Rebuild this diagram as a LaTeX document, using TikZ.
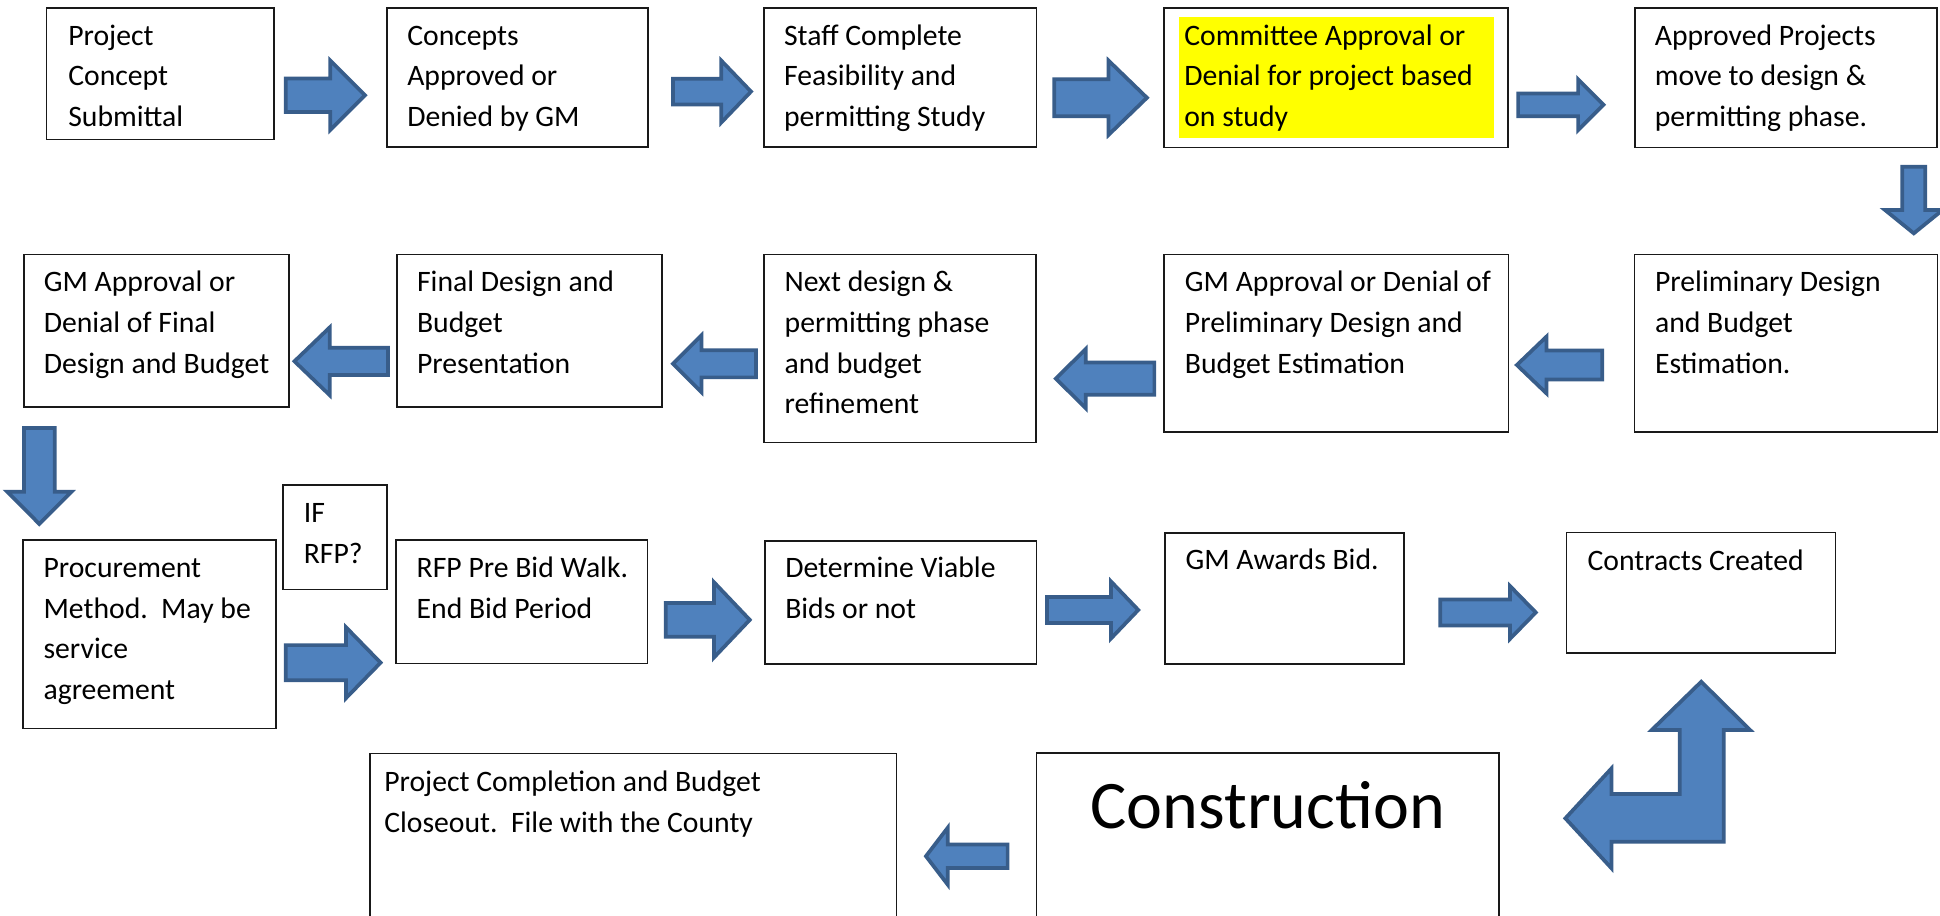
\documentclass[tikz,border=0pt]{standalone}
\usepackage{fontspec}
\setmainfont{Carlito}

\definecolor{arrowfill}{HTML}{4F81BD}
\definecolor{arrowline}{HTML}{385D8A}
\definecolor{hilite}{HTML}{FFFF00}

\tikzset{
  box/.style={draw=black!90, line width=1.3pt, inner sep=0pt, anchor=north west},
  lbl/.style={anchor=base west, inner sep=0pt, font=\fontsize{24}{33}\selectfont},
  barrow/.style={fill=arrowfill, draw=arrowline, line width=3pt, line join=miter},
}

% box: name, left, top, width, height
\newcommand{\flowbox}[5]{\node[box, minimum width=#4pt, minimum height=#5pt] (#1) at (#2,#3) {};}
% box text: name, box, inset x, first baseline below top, lines
\newcommand{\boxtext}[5]{\node[lbl] (#1) at ([shift={(#3,#4)}]#2.north west) {\parbox[t]{500pt}{\raggedright #5}};}
% horizontal block arrow: tail x, head base x, tip x, centre y, head half height, shaft half height
\newcommand{\harrow}[6]{\draw[barrow] (#1,{#4-#6}) -- (#2,{#4-#6}) -- (#2,{#4-#5}) -- (#3,#4) -- (#2,{#4+#5}) -- (#2,{#4+#6}) -- (#1,{#4+#6}) -- cycle;}
% downward block arrow: centre x, top y, head base y, tip y, head half width, shaft half width
\newcommand{\varrow}[6]{\draw[barrow] ({#1-#6},#2) -- ({#1+#6},#2) -- ({#1+#6},#3) -- ({#1+#5},#3) -- (#1,#4) -- ({#1-#5},#3) -- ({#1-#6},#3) -- cycle;}

\begin{document}
\begin{tikzpicture}[x=1pt, y=-1pt]
\useasboundingbox (0,0) rectangle (1568,740);
\clip (0,0) rectangle (1568,740);
\fill[white] (0,0) rectangle (1568,740);

% ---- first row ----
\flowbox{b1}{37}{6}{184}{106}
\flowbox{b2}{312}{6}{211}{112}
\flowbox{b3}{617}{6}{220}{112}
\flowbox{b4}{940}{6}{278}{112.6}
\flowbox{b5}{1320.7}{6}{244}{112.6}
\fill[hilite] ([shift={(13,7.5)}]b4.north west) rectangle ([shift={(-12,-8)}]b4.south east);

\boxtext{t1}{b1}{18}{30.5}{Project\\Concept\\Submittal}
\boxtext{t2}{b2}{17}{30.5}{Concepts\\Approved or\\Denied by GM}
\boxtext{t3}{b3}{16.5}{30.5}{Staff Complete\\Feasibility and\\permitting Study}
\boxtext{t4}{b4}{17}{30.5}{Committee Approval or\\Denial for project based\\on study}
\boxtext{t5}{b5}{16.6}{30.5}{Approved Projects\\move to design \&\\permitting phase.}

\harrow{231}{267}{295}{77}{28}{13.5}
\harrow{544}{583}{607}{74}{25}{10.4}
\harrow{852}{896}{927}{79}{30}{15}
\harrow{1227}{1275.5}{1296}{84.7}{20.5}{9.2}
\varrow{1546.8}{134.7}{169.7}{188.6}{23.3}{9.3}

% ---- second row ----
\flowbox{b6}{18.7}{205}{214}{123.4}
\flowbox{b7}{320.4}{205}{214}{123.4}
\flowbox{b8}{617}{205}{219.5}{152}
\flowbox{b9}{940}{205}{278.7}{143.4}
\flowbox{b10}{1320.5}{205}{244.7}{143.4}

\boxtext{t6}{b6}{16.5}{30.5}{GM Approval or\\Denial of Final\\Design and Budget}
\boxtext{t7}{b7}{16.5}{30.5}{Final Design and\\Budget\\Presentation}
\boxtext{t8}{b8}{17}{30.5}{Next design \&\\permitting phase\\and budget\\refinement}
\boxtext{t9}{b9}{17.5}{30.5}{GM Approval or Denial of\\Preliminary Design and\\Budget Estimation}
\boxtext{t10}{b10}{17}{30.5}{Preliminary Design\\and Budget\\Estimation.}

\harrow{313.6}{266.5}{238}{292}{27.4}{11}
\harrow{611}{567}{544}{294}{23}{11}
\harrow{933}{877.6}{853.4}{306}{24}{13}
\harrow{1295}{1250}{1226}{295}{23}{11.7}
\varrow{31.8}{346}{397.4}{423.5}{26}{12.4}

% ---- third row ----
\flowbox{b11}{18}{436}{204.5}{152}
\flowbox{b12}{228}{391.5}{84}{84.3}
\flowbox{b13}{319.6}{436}{203}{99.6}
\flowbox{b14}{617.5}{436.5}{219.5}{99.5}
\flowbox{b15}{941}{430}{193.3}{106}
\flowbox{b16}{1265.5}{429.7}{217.5}{97.6}

\boxtext{t11}{b11}{17}{30.5}{Procurement\\Method.\ \ May be\\service\\agreement}
\boxtext{t12}{b12}{17.4}{31}{IF\\RFP?}
\boxtext{t13}{b13}{17}{30.5}{RFP Pre Bid Walk.\\End Bid Period}
\boxtext{t14}{b14}{17}{30.5}{Determine Viable\\Bids or not}
\boxtext{t15}{b15}{17}{30.5}{GM Awards Bid.}
\boxtext{t16}{b16}{17.5}{31}{Contracts Created}

\harrow{231}{279.6}{307.6}{535.6}{28.7}{14.2}
\harrow{538}{577}{606}{501}{30.5}{13.7}
\harrow{846.3}{898}{920}{493}{23}{10.5}
\harrow{1164}{1220.5}{1241.3}{495}{21.3}{10.5}

% ---- last row ----
\flowbox{b17}{298.4}{608.4}{425.4}{200}
\flowbox{b18}{837}{608}{374}{200}
\boxtext{t17}{b17}{12}{31.6}{Project Completion and Budget\\Closeout.\ \ File with the County}
\node[anchor=base, inner sep=0pt, font=\fontsize{55}{60}\selectfont] (t18) at ([shift={(0,62)}]b18.north) {Construction};

\harrow{814.4}{766}{748.4}{692}{23}{9.5}

% bent arrow from Construction up to Contracts Created
\draw[barrow] (1375,551) -- (1414.5,590) -- (1393.2,590) -- (1393.2,680.3)
  -- (1302.5,680.3) -- (1302.5,701.8) -- (1265.2,661.4) -- (1302.5,621)
  -- (1302.5,641.8) -- (1357.7,641.8) -- (1357.7,590) -- (1335,590) -- cycle;
\end{tikzpicture}
\end{document}
